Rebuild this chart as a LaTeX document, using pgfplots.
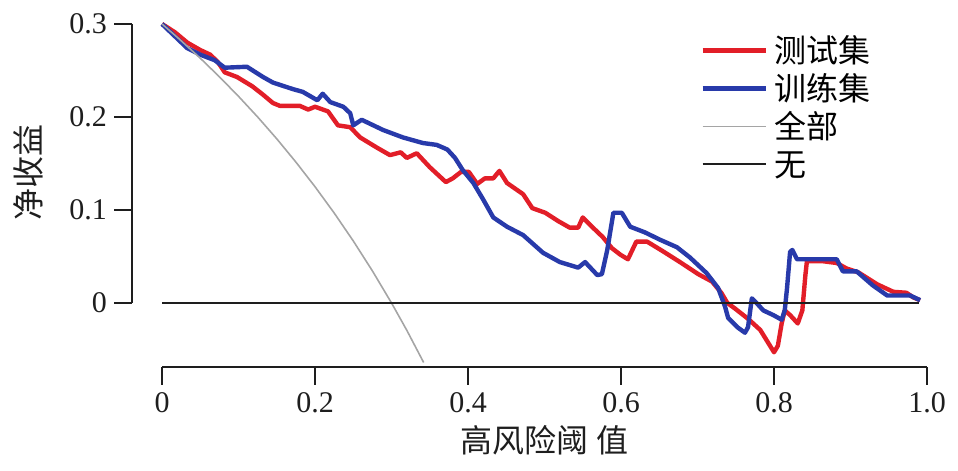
\documentclass[border=0pt]{standalone}
\usepackage{fontspec}
\setmainfont{Liberation Serif}
\newfontfamily\cjk{Noto Sans CJK SC}
\usepackage{pgfplots}
\pgfplotsset{compat=1.18}
\definecolor{cred}{RGB}{226,30,40}
\definecolor{cblue}{RGB}{40,58,170}
\definecolor{cgray}{RGB}{165,165,165}
\definecolor{cblack}{RGB}{30,30,30}
\begin{document}
\begin{tikzpicture}
\begin{axis}[
  scale only axis, width=382.5pt, height=139.5pt,
  xmin=0, xmax=1, ymin=0, ymax=0.3,
  clip=false,
  axis x line=bottom, axis y line=left,
  axis line style={-, line width=1.1pt, color=cblack},
  axis x line shift=32pt, axis y line shift=15pt,
  tick align=outside,
  major tick length=9pt,
  tick style={line width=1.1pt, color=cblack},
  xtick={0,0.2,0.4,0.6,0.8,1.0},
  xticklabels={0,0.2,0.4,0.6,0.8,1.0},
  ytick={0,0.1,0.2,0.3},
  yticklabels={0,0.1,0.2,0.3},
  ticklabel style={font=\fontsize{15}{18}\selectfont, text=cblack},
  xlabel={\cjk 高风险阈 值},
  ylabel={\cjk 净收益},
  label style={font=\fontsize{16}{19}\selectfont, text=cblack},
  xlabel style={at={(axis description cs:0.5,-0.491)}, anchor=center},
  ylabel style={at={(axis description cs:-0.175,0.4667)}, anchor=center},
  legend style={at={(axis description cs:0.7033,0.975)}, anchor=north west,
    draw=none, fill=none, inner sep=0pt, column sep=3.5pt, row sep=0pt,
    nodes={inner sep=0pt, text height=15.5pt, text depth=3.5pt},
    font=\cjk\fontsize{16}{19}\selectfont},
  legend cell align=left,
  legend image code/.code={\draw[#1] (0pt,0pt) -- (31.5pt,0pt);},
]
\addplot[cred, line width=2.2pt, line join=round] coordinates {
(0,0.300) (0.017,0.291) (0.033,0.280) (0.050,0.272) (0.063,0.267) (0.073,0.259)
(0.082,0.248) (0.098,0.243) (0.118,0.233) (0.132,0.224) (0.145,0.215) (0.154,0.212)
(0.180,0.212) (0.191,0.208) (0.200,0.211) (0.217,0.206) (0.230,0.191) (0.246,0.189)
(0.259,0.178) (0.281,0.167) (0.298,0.159) (0.312,0.162) (0.320,0.156) (0.333,0.161)
(0.350,0.146) (0.371,0.130) (0.380,0.134) (0.391,0.141) (0.401,0.141) (0.412,0.128)
(0.422,0.134) (0.433,0.134) (0.441,0.142) (0.451,0.129) (0.472,0.117) (0.484,0.102)
(0.501,0.097) (0.518,0.088) (0.533,0.081) (0.544,0.081) (0.550,0.092) (0.562,0.082)
(0.576,0.071) (0.588,0.059) (0.599,0.052) (0.609,0.047) (0.620,0.066) (0.634,0.066)
(0.654,0.056) (0.677,0.044) (0.701,0.031) (0.719,0.023) (0.731,0.011) (0.739,0.000)
(0.749,-0.006) (0.766,-0.017) (0.782,-0.029) (0.800,-0.053) (0.805,-0.046) (0.810,-0.022)
(0.814,-0.008) (0.821,-0.013) (0.831,-0.022) (0.837,-0.008) (0.841,0.030) (0.843,0.045)
(0.863,0.045) (0.882,0.043) (0.895,0.037) (0.910,0.033) (0.935,0.020) (0.956,0.012)
(0.973,0.011) (0.982,0.006) (0.991,0.003)
};
\addlegendentry{测试集}
\addplot[cblue, line width=2.2pt, line join=round] coordinates {
(0,0.300) (0.033,0.274) (0.050,0.267) (0.069,0.261) (0.082,0.253) (0.111,0.254)
(0.132,0.243) (0.145,0.237) (0.171,0.230) (0.184,0.227) (0.203,0.218) (0.210,0.225)
(0.220,0.216) (0.237,0.211) (0.246,0.204) (0.250,0.191) (0.261,0.197) (0.289,0.186)
(0.315,0.178) (0.341,0.172) (0.359,0.170) (0.373,0.165) (0.383,0.156) (0.393,0.143)
(0.407,0.129) (0.420,0.111) (0.433,0.092) (0.451,0.082) (0.472,0.073) (0.498,0.054)
(0.520,0.044) (0.544,0.038) (0.553,0.044) (0.569,0.030) (0.575,0.031) (0.582,0.057)
(0.590,0.097) (0.601,0.097) (0.612,0.082) (0.631,0.076) (0.651,0.068) (0.673,0.060)
(0.690,0.049) (0.703,0.039) (0.712,0.032) (0.727,0.016) (0.736,-0.004) (0.740,-0.016)
(0.752,-0.026) (0.762,-0.032) (0.766,-0.026) (0.771,0.005) (0.776,0.001) (0.786,-0.008)
(0.799,-0.013) (0.810,-0.018) (0.814,-0.008) (0.817,0.016) (0.821,0.055) (0.824,0.057)
(0.830,0.047) (0.882,0.047) (0.890,0.034) (0.908,0.034) (0.929,0.019) (0.948,0.008)
(0.978,0.008) (0.991,0.003)
};
\addlegendentry{训练集}
\addplot[cgray, line width=0.8pt] coordinates {
(0,0.300) (0.02,0.2857) (0.05,0.2632) (0.075,0.2432) (0.10,0.2222) (0.125,0.2000)
(0.15,0.1765) (0.175,0.1515) (0.20,0.1250) (0.225,0.0968) (0.25,0.0667) (0.275,0.0345)
(0.30,0.0000) (0.32,-0.0294) (0.342,-0.0640)
};
\addlegendentry{全部}
\addplot[cblack, line width=1.0pt] coordinates {(0,0) (0.99,0)};
\addlegendentry{无}
\coordinate (bbA) at (axis cs:-0.2118,-0.1806);
\coordinate (bbB) at (axis cs:1.0405,0.3258);
\end{axis}
\useasboundingbox (bbA) rectangle (bbB);
\end{tikzpicture}
\end{document}
